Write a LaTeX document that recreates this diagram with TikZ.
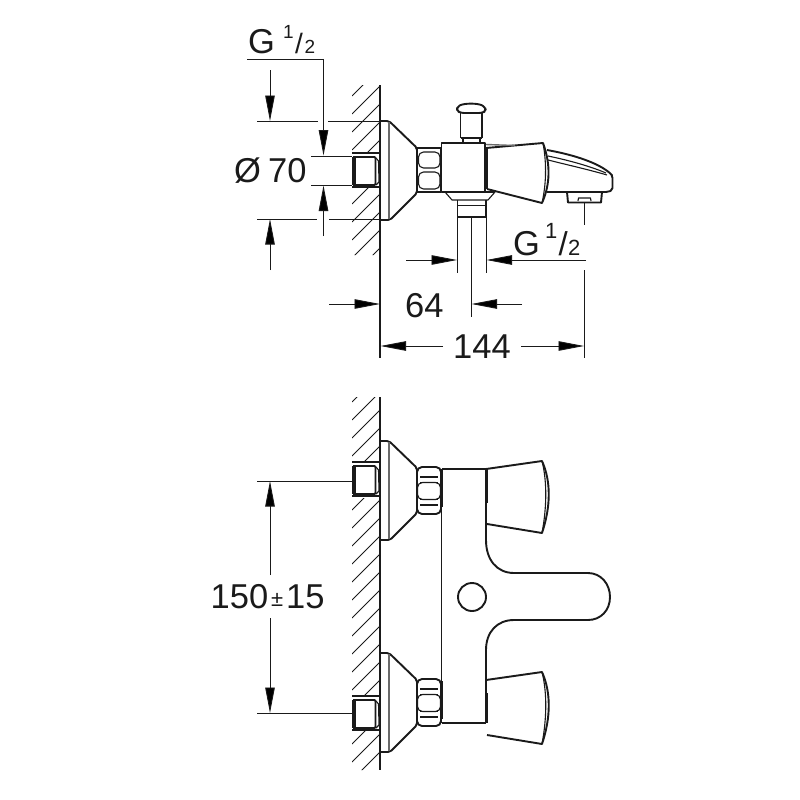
\documentclass[tikz,border=0pt]{standalone}
\usepackage{fontspec}
\setmainfont{Liberation Sans}
\usetikzlibrary{arrows.meta}
\definecolor{ink}{HTML}{1A1A1A}
\tikzset{
 dim/.style={draw=ink,line width=0.9pt},
 dimto/.style={dim,-{Triangle[length=25.5pt,width=9.5pt,fill=black]}},
 hatch/.style={draw=ink,line width=0.85pt},
 wall/.style={draw=ink,line width=1.3pt},
 prof/.style={draw=ink,line width=1.9pt,line join=round},
 fine/.style={draw=ink,line width=1.1pt,line join=round},
 gray line/.style={draw=ink!65,line width=1.4pt},
 heavy/.style={draw=ink,line width=3pt,line join=round},
 txt/.style={inner sep=0pt,anchor=base west,text=ink},
 big/.style={txt,font=\fontsize{34.5}{34.5}\selectfont},
}
\newcommand{\wallblock}[1]{%
 \begin{scope}[yshift=-#1pt]
 \draw[prof] (352,0)--(380,0);
 \draw[heavy,line width=2.4pt] (352,34)--(380,34);
 \draw[prof,rounded corners=1pt] (353,4)--(375.5,4)--(375.5,32)--(353,32);
 \draw[heavy,line width=3.2pt,rounded corners=1pt] (354,4)--(354,32);
 \draw[fine] (376,5)--(378.5,8)--(379,29)--(376,32);
 \end{scope}}
\newcommand{\rosette}[1]{%
 \begin{scope}[yshift=-#1pt]
 \draw[prof,rounded corners=2pt] (380,0)--(389,0)--(417,27)--(417,72)--(390,99)--(380,99);
 \draw[gray line] (389,1)--(389,98);
 \end{scope}}
\newcommand{\hexnut}[1]{%
 \begin{scope}[yshift=-#1pt]
 \draw[prof,rounded corners=5pt] (417,0) rectangle (441,47);
 \draw[prof] (420,10)--(438,10) (420,15.5)--(438,15.5) (420,32.5)--(438,32.5) (420,38)--(438,38);
 \draw[fine,rounded corners=5pt] (417.5,15.5) rectangle (440.5,32.5);
 \draw[heavy,line width=2.2pt] (442,2)--(442,40);
 \end{scope}}
\newcommand{\lever}[1]{%
 \begin{scope}[yshift=-#1pt]
 \draw[prof] (486,8)--(542,0) .. controls (551,20) and (551,45) .. (542,72)--(487,63);
 \draw[fine] (542,0) .. controls (547,20) and (547,45) .. (542,72);
 \end{scope}}
\begin{document}
\begin{tikzpicture}[x=1pt,y=-1pt]
\useasboundingbox[fill=white] (0,0) rectangle (800,800);

%% ---- hatching, upper wall
\begin{scope}
 \clip (352,85) rectangle (380,153) (352,187) rectangle (380,255);
 \foreach \yy in {96,114,132,150,168,186,204,222,240,258,276}
   \draw[hatch] (352,\yy)--(380,\yy-28);
\end{scope}
%% ---- hatching, lower wall
\begin{scope}
 \clip (352,397) rectangle (380,462) (352,498) rectangle (380,696) (352,730) rectangle (380,770);
 \foreach \yy in {402,420,438,456,474,492,510,528,546,564,582,600,618,636,654,672,690,708,726,744,762,780}
   \draw[hatch] (352,\yy)--(380,\yy-28);
\end{scope}
\draw[wall] (380,85)--(380,358);
\draw[wall] (380,397)--(380,770);

%% ---- upper view
\wallblock{153}
\rosette{121}
\begin{scope}[yshift=-145pt]
 \draw[prof] (417,3) rectangle (441,47);
 \draw[fine,rounded corners=5pt] (418.5,7) rectangle (440,23);
 \draw[fine,rounded corners=5pt] (418.5,27) rectangle (440,44);
\end{scope}
% body, base, nipple
\draw[prof] (441.5,143) rectangle (485,192);
\draw[prof] (441.5,192)--(495,192);
\draw[fine] (445,192)--(452,200)--(488,200)--(495,192);
\draw[prof] (457.5,200)--(457.5,217)--(486,217)--(486,200);
\draw[fine] (457.5,205.5)--(486,205.5);
% diverter knob
\draw[prof] (463,143)--(463,138)--(480,138)--(480,143);
\draw[prof] (460.5,138)--(460.5,113) (482,138)--(482,113) (460.5,138)--(482,138);
\draw[prof,rounded corners=3pt] (461,113)--(457,111)--(457,107) .. controls (464,103) and (478,103) .. (485,107)--(486,111)--(482,113)--cycle;
% lever
\draw[heavy] (486,147)--(486,189);
\draw[prof] (486,148)--(543,143) .. controls (551,165) and (550,185) .. (542,203)--(487,189);
\draw[fine] (543,143) .. controls (547,165) and (546,185) .. (542,203);
\draw[gray line] (486,144.5)--(515,145.5);
% spout
\draw[prof,rounded corners=2pt] (547,150) .. controls (575,155) and (598,163) .. (611,174)--(612.5,176)--(612.5,190)--(608,192)--(547,192);
\draw[fine] (548,156) .. controls (572,161) and (592,167) .. (606,173);
\draw[fine] (548,160) .. controls (568,165) and (590,170) .. (607,175);
% aerator
\draw[prof] (567,192)--(568,202.5)--(601,202.5)--(602,192);
\draw[fine] (578,201)--(578.5,198)--(590.5,198)--(591,201);
\draw[dim] (584,203)--(584,225);

% extension lines
\draw[dim] (257,121)--(318,121) (328,121)--(380,121);
\draw[dim] (257,219)--(317,219) (329,219)--(380,219);
\draw[dim] (311,156)--(352,156) (311,185)--(352,185);
\draw[dim] (247,59)--(323.5,59);
\draw[dimto] (323.5,59)--(323.5,155.5);
\draw[dimto] (323.5,236)--(323.5,185.5);
\draw[dimto] (270,70)--(270,121);
\draw[dimto] (270,270)--(270,219);
\draw[dim] (457.5,217)--(457.5,273) (486,217)--(486,273) (471,217)--(471,317) (584.5,270)--(584.5,358);
\draw[dimto] (406,260)--(457,260);
\draw[dimto] (586,260)--(486.5,260);
\draw[dimto] (329,304)--(380,304);
\draw[dimto] (522,304)--(471.5,304);
\draw[dimto] (443,346)--(380.5,346);
\draw[dimto] (521,346)--(584,346);

% texts, upper
\node[big] (gtop) at (248,53.5) {G};
\node[txt,font=\fontsize{19}{19}\selectfont] (gtopn) at (283,38) {1};
\node[txt,font=\fontsize{28}{28}\selectfont] (gtops) at (295,54) {/};
\node[txt,font=\fontsize{19}{19}\selectfont] (gtopd) at (304.5,54) {2};
\node[big] (dia) at (234,182) {Ø};
\node[big] (dian) at (268,182) {70};
\node[big] (glow) at (513,255) {G};
\node[txt,font=\fontsize{22}{22}\selectfont] (glown) at (545,238) {1};
\node[txt,font=\fontsize{33}{33}\selectfont] (glows) at (558.5,255) {/};
\node[txt,font=\fontsize{22}{22}\selectfont] (glowd) at (568,255) {2};
\node[big] (d64) at (405,317) {64};
\node[big] (d144) at (453,358) {144};

%% ---- lower view
\wallblock{462}
\wallblock{696}
\rosette{441}
\rosette{653}
\hexnut{467}
\hexnut{679}
% body outline
\draw[prof] (441.5,469)--(441.5,723);
\draw[prof] (441.5,469)--(486,469);
\draw[prof] (441.5,723)--(486,723);
\draw[heavy] (486,469)--(486,503);
\draw[heavy] (486,693)--(486,723);
\draw[prof] (486,503)--(486,540) .. controls (486,560) and (497,573) .. (514,573)--(588,573)
  .. controls (601,573) and (610,584) .. (610,597) .. controls (610,610) and (601,620) .. (588,620)
  --(514,620) .. controls (497,620) and (486,632) .. (486,650)--(486,693);
\node[circle,draw=ink,line width=1.9pt,minimum size=28pt,inner sep=0pt] (hole) at (472,597) {};
\lever{461}
\lever{672}

% dimension, lower
\draw[dim] (257,481)--(352,481) (257,713)--(352,713);
\draw[dimto] (270,575)--(270,481);
\draw[dimto] (270,618)--(270,713);
\node[big] (d150) at (210.5,608) {150};
\node[txt,font=\fontsize{22}{22}\selectfont] (pm) at (271,606) {±};
\node[big] (d15) at (286,608) {15};
\end{tikzpicture}
\end{document}
